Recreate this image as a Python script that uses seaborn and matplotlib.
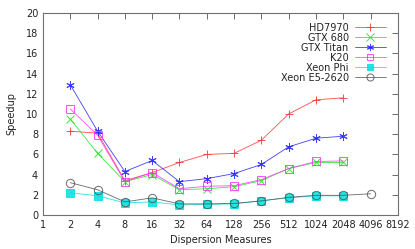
import numpy as np
import pandas as pd
import matplotlib
matplotlib.use("Agg")
import matplotlib.pyplot as plt
import matplotlib.ticker as mticker
import seaborn as sns

# Dispersion measures and speedups
dms = [2, 4, 8, 16, 32, 64, 128, 256, 512, 1024, 2048]
dms_e5 = [2, 4, 8, 16, 32, 64, 128, 256, 512, 1024, 2048, 4096]

hd7970 = [8.3, 8.1, 3.4, 4.2, 5.2, 6.0, 6.1, 7.4, 10.0, 11.4, 11.6]
gtx680 = [9.5, 6.1, 3.3, 4.0, 2.5, 2.6, 2.8, 3.4, 4.6, 5.2, 5.2]
gtx_titan = [12.9, 8.3, 4.3, 5.4, 3.3, 3.6, 4.1, 5.0, 6.75, 7.6, 7.8]
k20 = [10.5, 7.9, 3.3, 4.2, 2.6, 2.85, 2.9, 3.5, 4.6, 5.3, 5.35]
xeon_phi = [2.2, 1.9, 1.2, 1.3, 1.0, 1.05, 1.1, 1.4, 1.7, 1.9, 1.9]
xeon_e5 = [3.2, 2.5, 1.3, 1.7, 1.1, 1.1, 1.15, 1.4, 1.75, 1.95, 1.95, 2.1]

xticks = [1, 2, 4, 8, 16, 32, 64, 128, 256, 512, 1024, 2048, 4096, 8192]

series = [
    ("HD7970", dms, hd7970, "#ff3030", "+", "full"),
    ("GTX 680", dms, gtx680, "#20e020", "x", "full"),
    ("GTX Titan", dms, gtx_titan, "#2020ff", (6, 2, 0), "full"),
    ("K20", dms, k20, "#ff30ff", "s", "none"),
    ("Xeon Phi", dms, xeon_phi, "#00e0e0", "s", "full"),
    ("Xeon E5-2620", dms_e5, xeon_e5, "#505050", "o", "none"),
]

sns.set_style("white")
plt.rcParams['font.family'] = ['DejaVu Sans']

fig = plt.figure(figsize=(4.15, 2.49), dpi=100)
ax = fig.add_axes([0.1036, 0.1365, 0.855, 0.8115])

for name, xs, ys, color, marker, fill in series:
    df = pd.DataFrame({"dm": xs, "speedup": ys})
    sns.lineplot(data=df, x="dm", y="speedup", ax=ax, color=color, lw=0.6,
                 marker=marker, markersize=6 if marker != "s" else 5.5,
                 fillstyle=fill, markeredgecolor=color,
                 markerfacecolor=color if fill == "full" else "none",
                 markeredgewidth=0.7, label=name, alpha=0.85)

ax.set_xscale("log", base=2)
ax.set_xlim(1, 8192)
ax.set_ylim(0, 20)
ax.xaxis.set_major_locator(mticker.FixedLocator(xticks))
ax.xaxis.set_major_formatter(mticker.FixedFormatter([str(t) for t in xticks]))
ax.xaxis.set_minor_locator(mticker.LogLocator(base=2, subs=[1.25, 1.5, 1.75]))
ax.xaxis.set_minor_formatter(mticker.NullFormatter())
ax.yaxis.set_major_locator(mticker.MultipleLocator(2))

ax.tick_params(axis="both", which="major", direction="in", length=4, width=0.6,
               top=True, right=True, labelsize=7, colors="#555555",
               labelcolor="#222222", pad=3.5)
ax.tick_params(axis="x", which="minor", direction="in", length=2, width=0.5,
               top=True, bottom=True, color="#555555")
for sp in ax.spines.values():
    sp.set_color("#707070")
    sp.set_linewidth(0.8)

ax.set_xlabel("Dispersion Measures", fontsize=7, color="#222222", labelpad=4)
ax.set_ylabel("Speedup", fontsize=7, color="#222222", labelpad=7)

leg = ax.legend(loc="upper right", bbox_to_anchor=(0.985, 0.985), markerfirst=False,
                frameon=False, fontsize=7, handlelength=3.2, handletextpad=0.6,
                labelspacing=0.0, borderaxespad=0.3, markerscale=0.85,
                handleheight=0.9)
for t in leg.get_texts():
    t.set_color("#222222")

fig.savefig("out.png", dpi=100)
